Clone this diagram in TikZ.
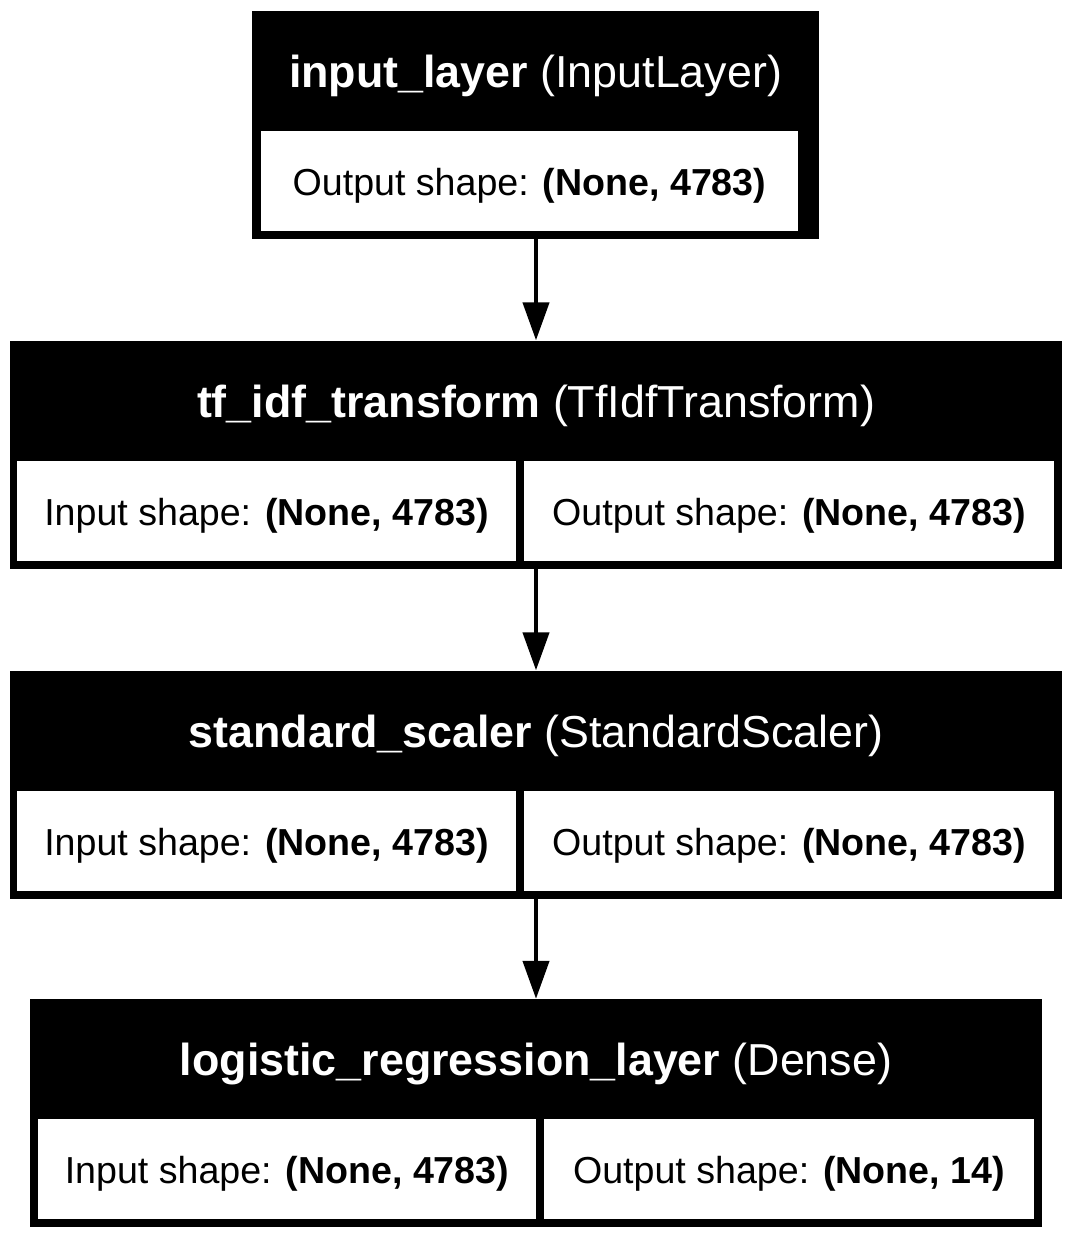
\documentclass[tikz,border=0pt]{standalone}
\usepackage{fontspec}
\setmainfont{Liberation Sans}
\usepackage{tikz}
\usetikzlibrary{arrows.meta,positioning,calc}

\begin{document}
\begin{tikzpicture}[
    x=1pt, y=-1pt,
    layer/.style={rectangle, fill=black, inner sep=0pt, minimum height=228pt},
    head/.style={text=white, inner sep=0pt, font=\fontsize{44.8}{54}\selectfont},
    cell/.style={rectangle, fill=white, inner sep=0pt, minimum height=100pt, text centered, font=\fontsize{37.6}{45}\selectfont},
    txt/.style={inner sep=0pt, font=\fontsize{37.6}{45}\selectfont},
    arrow/.style={-{Triangle[length=38pt,width=26pt]}, line width=4.3pt}
]
    \path[fill=white, use as bounding box] (0,0) rectangle (1072,1239);

    % input layer
    \node[layer, minimum width=567pt] (input) at (535.5,125) {};
    \node[head] (inputhead) at (535.5,76) {\textbf{input\_layer} (InputLayer)};
    \node[cell, minimum width=537pt] (inputout) at (529.5,181) {};
    \node[txt] at ($(inputout)+(0,5)$) {Output shape: \textbf{(None, 4783)}};

    % tf-idf
    \node[layer, minimum width=1052pt] (tfidf) at (536,454.5) {};
    \node[head] (tfidfhead) at (536,406) {\textbf{tf\_idf\_transform} (TfIdfTransform)};
    \node[cell, minimum width=499pt] (tfidfin) at (266.5,511) {};
    \node[cell, minimum width=530pt] (tfidfout) at (789,511) {};
    \node[txt] at ($(tfidfin)+(0,5)$) {Input shape: \textbf{(None, 4783)}};
    \node[txt] at ($(tfidfout)+(0,5)$) {Output shape: \textbf{(None, 4783)}};

    % scaler
    \node[layer, minimum width=1052pt] (scaler) at (536,784.5) {};
    \node[head] (scalerhead) at (536,736) {\textbf{standard\_scaler} (StandardScaler)};
    \node[cell, minimum width=499pt] (scalerin) at (266.5,841) {};
    \node[cell, minimum width=530pt] (scalerout) at (789,841) {};
    \node[txt] at ($(scalerin)+(0,5)$) {Input shape: \textbf{(None, 4783)}};
    \node[txt] at ($(scalerout)+(0,5)$) {Output shape: \textbf{(None, 4783)}};

    % dense
    \node[layer, minimum width=1012pt] (dense) at (536,1113) {};
    \node[head] (densehead) at (536,1064) {\textbf{logistic\_regression\_layer} (Dense)};
    \node[cell, minimum width=498pt] (densein) at (287,1169) {};
    \node[cell, minimum width=490pt] (denseout) at (789,1169) {};
    \node[txt] at ($(densein)+(0,5)$) {Input shape: \textbf{(None, 4783)}};
    \node[txt] at ($(denseout)+(0,5)$) {Output shape: \textbf{(None, 14)}};

    \draw[arrow] (input.south -| tfidf.north) -- (tfidf.north);
    \draw[arrow] (tfidf.south) -- (scaler.north);
    \draw[arrow] (scaler.south) -- (dense.north);
\end{tikzpicture}
\end{document}
